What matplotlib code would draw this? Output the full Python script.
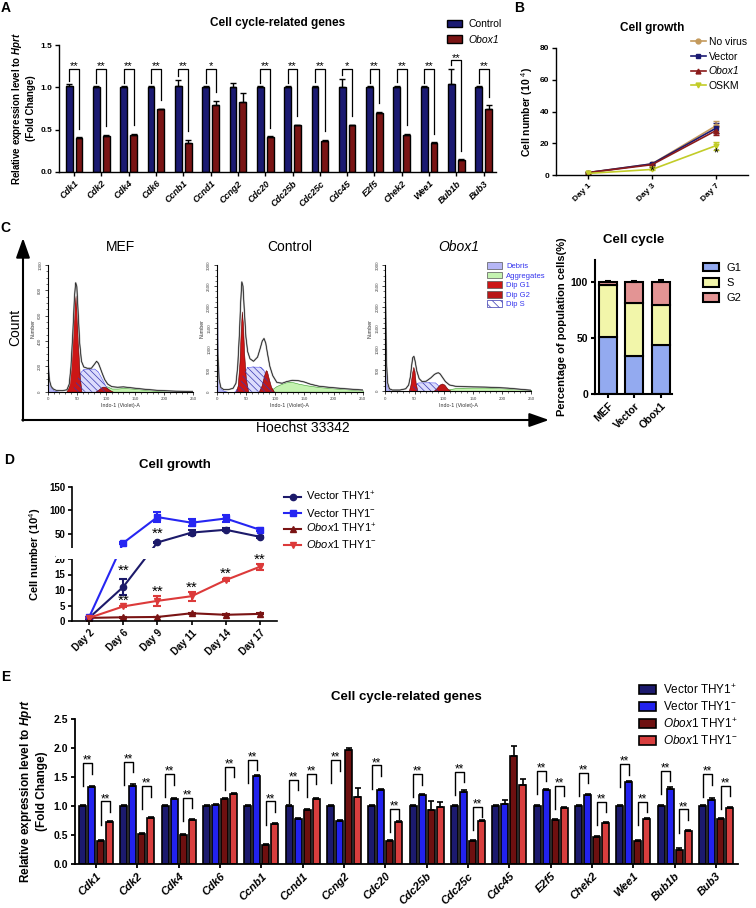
import numpy as np
import matplotlib
matplotlib.use('Agg')
import matplotlib.pyplot as plt
from matplotlib.patches import Patch, Rectangle
from matplotlib.lines import Line2D

plt.rcParams['font.family'] = ['Liberation Sans', 'DejaVu Sans']
plt.rcParams['mathtext.fontset'] = 'custom'
plt.rcParams['mathtext.rm'] = 'Liberation Sans'
plt.rcParams['mathtext.it'] = 'Liberation Sans:italic'
plt.rcParams['mathtext.bf'] = 'Liberation Sans:bold'
plt.rcParams['mathtext.bfit'] = 'Liberation Sans:italic:bold'
plt.rcParams['hatch.linewidth'] = 0.5

# ---------------- data ----------------
genes = ['Cdk1', 'Cdk2', 'Cdk4', 'Cdk6', 'Ccnb1', 'Ccnd1', 'Ccng2', 'Cdc20',
         'Cdc25b', 'Cdc25c', 'Cdc45', 'E2f5', 'Chek2', 'Wee1', 'Bub1b', 'Bub3']

# A: Control vs Obox1
a_control = [1.01, 1.0, 1.0, 1.0, 1.01, 1.0, 1.0, 1.0, 1.0, 1.0, 1.0, 1.0, 1.0, 1.0, 1.04, 1.0]
a_control_err = [0.03, 0.01, 0.01, 0.01, 0.08, 0.01, 0.05, 0.01, 0.01, 0.02, 0.10, 0.01, 0.02, 0.01, 0.18, 0.01]
a_obox1 = [0.40, 0.43, 0.44, 0.74, 0.34, 0.79, 0.83, 0.41, 0.55, 0.37, 0.55, 0.70, 0.44, 0.34, 0.14, 0.74]
a_obox1_err = [0.01, 0.01, 0.01, 0.01, 0.04, 0.05, 0.10, 0.01, 0.01, 0.01, 0.01, 0.01, 0.01, 0.01, 0.01, 0.05]
a_sig = ['**', '**', '**', '**', '**', '*', '', '**', '**', '**', '*', '**', '**', '**', '**', '**']

# B: cell growth
b_days = ['Day 1', 'Day 3', 'Day 7']
b_novirus = [1.5, 7.0, 31.0]
b_novirus_err = [0.3, 0.5, 3.0]
b_vector = [1.5, 7.0, 29.5]
b_vector_err = [0.3, 0.5, 3.0]
b_obox1 = [1.5, 6.5, 28.0]
b_obox1_err = [0.3, 0.5, 3.0]
b_oskm = [1.0, 3.5, 18.5]
b_oskm_err = [0.2, 0.5, 2.5]
b_stars = ['', '*', '*']
b_star_y = [0, 2.0, 13.5]

# C: flow histograms (channel, count)
mef_total = ([0, 1, 3, 6, 10, 15, 25, 33, 37, 40, 43, 46, 48, 50, 52, 55, 58, 62, 68, 75, 80, 84,
              87, 90, 94, 98, 103, 110, 120, 130, 145, 165, 190, 220, 250],
             [260, 200, 90, 40, 20, 10, 8, 15, 60, 200, 450, 750, 860, 830, 650, 380, 240, 195,
              185, 185, 215, 240, 225, 190, 140, 95, 60, 40, 35, 38, 30, 20, 10, 4, 2])
mef_debris = ([0, 1, 3, 6, 10, 15, 20], [230, 180, 80, 30, 12, 5, 0])
mef_aggr = ([85, 92, 98, 103, 110, 120, 132, 145, 160, 180, 200, 215],
            [0, 20, 45, 40, 25, 25, 30, 25, 18, 10, 4, 0])
mef_s = ([42, 50, 57, 62, 80, 86, 92, 100, 108], [0, 90, 160, 180, 182, 160, 110, 40, 0])
mef_g1 = ([32, 36, 40, 43, 46, 48, 50, 52, 55, 58], [0, 40, 200, 450, 700, 760, 620, 380, 120, 0])
mef_g2 = ([82, 88, 93, 96, 100, 106, 112], [0, 20, 38, 40, 35, 15, 0])

ctl_total = ([0, 1, 2, 4, 7, 12, 20, 28, 33, 36, 39, 41, 43, 45, 47, 50, 53, 57, 63, 70, 75, 78, 81,
              84, 87, 91, 96, 103, 112, 120, 130, 140, 150, 160, 175, 195, 220, 250],
             [3000, 2000, 900, 300, 100, 50, 50, 80, 200, 600, 1400, 2100, 2600, 2500, 2000, 1300,
              950, 780, 720, 820, 1050, 1200, 1260, 1150, 900, 600, 380, 220, 200, 240, 270, 260,
              230, 180, 130, 100, 70, 40])
ctl_debris = ([0, 1, 2, 4, 7, 12, 18], [2950, 1900, 800, 250, 80, 20, 0])
ctl_aggr = ([88, 95, 102, 110, 118, 125, 132, 140, 155, 175, 200, 225, 250],
            [0, 60, 130, 180, 220, 235, 220, 190, 150, 110, 80, 55, 35])
ctl_s = ([30, 38, 45, 52, 60, 75, 80, 86, 92, 98], [0, 120, 400, 580, 595, 590, 520, 300, 100, 0])
ctl_g1 = ([33, 36, 39, 41, 43, 45, 47, 50, 54], [0, 150, 700, 1400, 1900, 1600, 900, 300, 0])
ctl_g2 = ([72, 77, 81, 84, 86, 89, 93, 98], [0, 150, 380, 510, 490, 320, 120, 0])

obx_total = ([0, 1, 2, 4, 7, 12, 25, 35, 40, 43, 45, 47, 49, 51, 54, 58, 63, 70, 78, 84, 88, 91, 94,
              98, 103, 110, 120, 135, 150, 170, 190, 210, 230, 250],
             [2750, 1800, 700, 200, 60, 30, 30, 60, 150, 350, 600, 800, 830, 720, 480, 300, 230,
              240, 320, 400, 430, 440, 410, 330, 230, 150, 120, 110, 105, 100, 90, 75, 50, 25])
obx_debris = ([0, 1, 2, 4, 7, 10], [1550, 900, 350, 100, 30, 0])
obx_aggr = ([100, 110, 120, 135, 150, 170, 190, 210, 230, 250], [0, 50, 75, 85, 90, 90, 80, 65, 50, 30])
obx_s = ([42, 50, 56, 70, 85, 90, 96], [0, 150, 210, 215, 210, 150, 0])
obx_g1 = ([40, 43, 46, 48, 50, 52, 55], [0, 150, 450, 580, 480, 200, 0])
obx_g2 = ([82, 88, 93, 97, 101, 106, 113], [0, 80, 160, 185, 160, 70, 0])

# C: cell cycle distribution (%)
cc_samples = ['MEF', 'Vector', 'Obox1']
cc_g1 = [51, 34, 44]
cc_s = [46, 47, 35.5]
cc_g2 = [3, 19, 20.5]
cc_g2_err = [0.5, 0.5, 1.5]

# D: cell growth by THY1 fraction
d_days = ['Day 2', 'Day 6', 'Day 9', 'Day 11', 'Day 14', 'Day 17']
d_vec_pos = [1.0, 11.0, 32.0, 53.0, 59.0, 44.0]
d_vec_pos_err = [0.2, 2.5, 2.0, 5.0, 3.0, 2.0]
d_vec_neg = [1.2, 31.0, 86.0, 74.0, 83.0, 59.0]
d_vec_neg_err = [0.2, 2.0, 10.0, 8.0, 8.0, 3.0]
d_obox_pos = [1.0, 1.2, 1.3, 2.5, 2.0, 2.3]
d_obox_pos_err = [0.1, 0.1, 0.1, 0.2, 0.2, 0.2]
d_obox_neg = [1.0, 4.7, 6.5, 8.0, 13.2, 17.5]
d_obox_neg_err = [0.1, 0.3, 1.5, 1.5, 0.4, 1.0]
d_star_x = [1, 1, 2, 2, 3, 4, 5]
d_star_y = [16.2, 6.6, 51.0, 9.4, 10.6, 15.2, 19.6]

# E: four groups
e_vec_pos = [1.0] * 16
e_vec_pos_err = [0.02] * 16
e_vec_neg = [1.33, 1.35, 1.12, 1.02, 1.51, 0.77, 0.74, 1.27, 1.19, 1.25, 1.04, 1.27, 1.19, 1.41, 1.30, 1.11]
e_vec_neg_err = [0.02, 0.03, 0.02, 0.02, 0.02, 0.02, 0.02, 0.02, 0.02, 0.02, 0.06, 0.02, 0.02, 0.02, 0.02, 0.02]
e_obox_pos = [0.40, 0.51, 0.50, 1.12, 0.33, 0.93, 1.97, 0.40, 0.93, 0.40, 1.86, 0.76, 0.47, 0.40, 0.25, 0.77]
e_obox_pos_err = [0.02, 0.02, 0.02, 0.02, 0.02, 0.02, 0.03, 0.02, 0.15, 0.02, 0.18, 0.02, 0.02, 0.02, 0.02, 0.02]
e_obox_neg = [0.73, 0.79, 0.76, 1.21, 0.69, 1.12, 1.15, 0.72, 0.98, 0.74, 1.36, 0.96, 0.70, 0.77, 0.57, 0.96]
e_obox_neg_err = [0.02, 0.02, 0.02, 0.02, 0.02, 0.02, 0.16, 0.02, 0.09, 0.02, 0.11, 0.02, 0.02, 0.02, 0.02, 0.02]
e_sig12 = ['**', '**', '**', '', '**', '**', '**', '**', '**', '**', '', '**', '**', '**', '**', '**']
e_sig34 = ['**', '**', '**', '**', '**', '**', '', '**', '', '**', '', '**', '**', '**', '**', '**']
e_top12 = [1.74, 1.76, 1.55, 0, 1.80, 1.45, 1.79, 1.70, 1.55, 1.59, 0, 1.61, 1.57, 1.72, 1.61, 1.55]
e_top34 = [1.08, 1.34, 1.14, 1.68, 1.08, 1.56, 0, 0.95, 0, 0.99, 0, 1.35, 1.07, 1.07, 0.94, 1.35]

# ---------------- figure ----------------
W, H = 756, 908
fig = plt.figure(figsize=(W / 100, H / 100), dpi=100)


def px_axes(x0, y0, x1, y1):
    return fig.add_axes([x0 / W, 1 - y1 / H, (x1 - x0) / W, (y1 - y0) / H])


def ftext(x, y, s, **kw):
    fig.text(x / W, 1 - y / H, s, **kw)


def style(ax, lw=1.0, size=6):
    for s in ['top', 'right']:
        ax.spines[s].set_visible(False)
    for s in ['left', 'bottom']:
        ax.spines[s].set_linewidth(lw)
    ax.tick_params(direction='out', width=lw, length=3, labelsize=size, pad=2)
    for t in ax.get_yticklabels():
        t.set_fontweight('bold')


# decoration layer for the C frame arrows
deco = fig.add_axes([0, 0, 1, 1])
deco.set_xlim(0, W)
deco.set_ylim(H, 0)
deco.axis('off')
arrow = dict(arrowstyle='-|>,head_length=0.85,head_width=0.3', lw=1.5, color='black',
             mutation_scale=14, shrinkA=0, shrinkB=0)
deco.annotate('', xy=(23, 238), xytext=(23, 420.7), arrowprops=arrow)
deco.annotate('', xy=(549, 420), xytext=(22.3, 420), arrowprops=arrow)

navy = '#1b1a72'
maroon = '#7a1414'

# ---- Panel A ----
axA = px_axes(59, 45, 496, 172)
xa = np.arange(len(genes))
n = len(genes)
axA.bar(xa - 0.18, a_control, 0.25, color=navy, edgecolor='black', lw=1.0, label='Control', zorder=2)
axA.bar(xa + 0.18, a_obox1, 0.25, color=maroon, edgecolor='black', lw=1.0, label='Obox1', zorder=2)
axA.errorbar(xa - 0.18, a_control, yerr=[np.zeros(n), a_control_err], fmt='none',
             ecolor='black', elinewidth=1.0, capsize=2, capthick=1.0, zorder=3)
axA.errorbar(xa + 0.18, a_obox1, yerr=[np.zeros(n), a_obox1_err], fmt='none',
             ecolor='black', elinewidth=1.0, capsize=2, capthick=1.0, zorder=3)
for i in range(n):
    if not a_sig[i]:
        continue
    c_top = a_control[i] + a_control_err[i]
    o_top = a_obox1[i] + a_obox1_err[i]
    top = max(1.22, c_top + 0.1)
    axA.plot([i - 0.18, i - 0.18, i + 0.18, i + 0.18], [c_top + 0.04, top, top, o_top + 0.1],
             color='black', lw=0.9)
    axA.text(i, top - 0.01, a_sig[i], ha='center', va='baseline', fontsize=8)
axA.set_xlim(-0.55, 15.45)
axA.set_ylim(0, 1.5)
axA.set_yticks([0, 0.5, 1.0, 1.5])
axA.set_yticklabels(['0.0', '0.5', '1.0', '1.5'])
axA.set_xticks(xa)
axA.set_xticklabels(genes, rotation=45, ha='right', va='top', rotation_mode='anchor',
                    fontstyle='italic', fontweight='bold')
style(axA, 1.0, 6)
axA.tick_params(axis='x', labelsize=6.5)
axA.set_ylabel('Relative expression level to $\\mathbfit{Hprt}$\n(Fold Change)',
               fontsize=7, fontweight='bold', labelpad=3, linespacing=1.3)
axA.set_title('Cell cycle-related genes', fontsize=8.5, fontweight='bold', pad=14)
legA = axA.legend(loc='upper left', bbox_to_anchor=(447 / W, 1 - 19 / H),
                  bbox_transform=fig.transFigure, frameon=False, fontsize=7.5,
                  handlelength=1.45, handleheight=0.75, handletextpad=0.65,
                  labelspacing=0.55, borderpad=0, borderaxespad=0)
legA.get_texts()[1].set_fontstyle('italic')

# ---- Panel B ----
axB = px_axes(556, 48, 748, 175)
xb = np.arange(3)
b_series = [(b_novirus, b_novirus_err, '#c49a5c', 'o', 'No virus'),
            (b_vector, b_vector_err, navy, 's', 'Vector'),
            (b_obox1, b_obox1_err, '#8a1a1a', '^', 'Obox1'),
            (b_oskm, b_oskm_err, '#c2cc28', 'v', 'OSKM')]
b_handles = []
for vals, errs, col, mk, lab in b_series:
    axB.errorbar(xb, vals, yerr=errs, color=col, marker=mk, ms=3.5, lw=1.2,
                 capsize=2.5, elinewidth=1.2)
    b_handles.append(Line2D([], [], color=col, marker=mk, ms=3.5, lw=1.2))
for i in range(3):
    if b_stars[i]:
        axB.text(i, b_star_y[i], b_stars[i], ha='center', va='center', fontsize=9)
axB.set_xlim(-0.5, 2.5)
axB.set_ylim(0, 80)
axB.set_yticks([0, 20, 40, 60, 80])
axB.set_xticks(xb)
axB.set_xticklabels(b_days, rotation=45, ha='right', va='top', rotation_mode='anchor',
                    fontweight='bold')
style(axB, 1.0, 6)
axB.set_ylabel('Cell number (10 $^{4}$)', fontsize=7.5, fontweight='bold', labelpad=3)
axB.set_title('Cell growth', fontsize=8.5, fontweight='bold', pad=12)
legB = axB.legend(b_handles, [s[4] for s in b_series], loc='upper left',
                  bbox_to_anchor=(691 / W, 1 - 37 / H),
                  bbox_transform=fig.transFigure, frameon=False, fontsize=7.5,
                  handlelength=1.4, handletextpad=0.3, labelspacing=0.45,
                  borderpad=0, borderaxespad=0)
legB.get_texts()[2].set_fontstyle('italic')

# ---- Panel C histograms ----


def hist_panel(rect, total, debris, aggr, s_ph, g1, g2, ymax, ystep, title, italic=False):
    ax = px_axes(*rect)
    ax.fill_between(debris[0], debris[1], color='#b6b6f6', edgecolor='#4a4ad8', lw=0.4)
    ax.fill_between(aggr[0], aggr[1], color='#c4f2b0', edgecolor='#3a9a2a', lw=0.4)
    ax.fill_between(s_ph[0], s_ph[1], facecolor='#dcdcfc', edgecolor='#5858f0', lw=0.4)
    ax.fill_between(g1[0], g1[1], color='#cc1616', edgecolor='#600000', lw=0.4)
    ax.fill_between(g2[0], g2[1], color='#c01818', edgecolor='#600000', lw=0.4)
    ax.fill_between(s_ph[0], s_ph[1], facecolor='none', edgecolor='#3838b0', hatch='\\\\\\\\\\',
                    lw=0)
    ax.plot(total[0], total[1], color='#b4b4b4', lw=1.3, solid_joinstyle='round')
    ax.plot(total[0], total[1], color='black', lw=0.45)
    ax.set_xlim(0, 250)
    ax.set_ylim(0, ymax)
    for s in ['top', 'right']:
        ax.spines[s].set_visible(False)
    for s in ['left', 'bottom']:
        ax.spines[s].set_linewidth(0.8)
    ax.set_xticks(np.arange(0, 251, 50))
    ax.set_xticks(np.arange(0, 251, 10), minor=True)
    ax.set_yticks(np.arange(0, ymax + 1, ystep))
    ax.set_yticks(np.arange(0, ymax + 1, ystep / 4), minor=True)
    ax.tick_params(which='major', length=2.5, width=0.5, labelsize=3.2, pad=1.5,
                   labelcolor='#444444')
    ax.tick_params(which='minor', length=1.5, width=0.4)
    ax.tick_params(axis='y', labelrotation=90)
    for t in ax.get_yticklabels():
        t.set_va('center')
    ax.set_xlabel('Indo-1 (Violet)-A', fontsize=3.8, labelpad=1.5, color='#333333')
    ax.set_ylabel('Number', fontsize=3.8, labelpad=2, color='#333333')
    ax.set_title(title, fontsize=10, pad=10, fontstyle='italic' if italic else 'normal')
    return ax


hist_panel((47.7, 265, 193.3, 391.7), mef_total, mef_debris, mef_aggr, mef_s, mef_g1, mef_g2,
           1000, 200, 'MEF')
hist_panel((216.7, 265, 362.7, 391.7), ctl_total, ctl_debris, ctl_aggr, ctl_s, ctl_g1, ctl_g2,
           3000, 500, 'Control')
axO = hist_panel((385.3, 265, 531.3, 391.3), obx_total, obx_debris, obx_aggr, obx_s, obx_g1,
                 obx_g2, 3000, 500, 'Obox1', italic=True)
hist_handles = [Patch(facecolor='#b6b6f6', edgecolor='#555555', lw=0.5),
                Patch(facecolor='#c4f2b0', edgecolor='#555555', lw=0.5),
                Patch(facecolor='#cc1616', edgecolor='#555555', lw=0.5),
                Patch(facecolor='#b81818', edgecolor='#555555', lw=0.5),
                Patch(facecolor='white', edgecolor='#3838b0', hatch='\\\\\\\\', lw=0.5)]
legH = axO.legend(hist_handles, ['Debris', 'Aggregates', 'Dip G1', 'Dip G2', 'Dip S'],
                  loc='upper left', bbox_to_anchor=(487 / W, 1 - 262 / H),
                  bbox_transform=fig.transFigure, frameon=False, fontsize=5.5,
                  handlelength=2.0, handleheight=1.0, handletextpad=0.5, labelspacing=0.2,
                  borderpad=0, borderaxespad=0)
for t in legH.get_texts():
    t.set_color('#3434ee')

ftext(15.5, 327, 'Count', rotation=90, fontsize=10, ha='center', va='center')
ftext(303, 428, 'Hoechst 33342', fontsize=10, ha='center', va='center')

# ---- Panel C stacked bars ----
axS = px_axes(595, 259.6, 672, 394)
xs = np.arange(3)
g1s = np.array(cc_g1)
ss = np.array(cc_s)
axS.bar(xs, cc_g1, 0.68, color='#93aaf0', edgecolor='black', lw=1.5, label='G1')
axS.bar(xs, cc_s, 0.68, bottom=g1s, color='#f2f6aa', edgecolor='black', lw=1.5, label='S')
axS.bar(xs, cc_g2, 0.68, bottom=g1s + ss, color='#e39494', edgecolor='black', lw=1.5, label='G2')
axS.errorbar(xs, g1s + ss + np.array(cc_g2), yerr=[np.zeros(3), cc_g2_err], fmt='none',
             ecolor='black', elinewidth=1.5, capsize=2.5, capthick=1.5)
axS.set_xlim(-0.49, 2.42)
axS.set_ylim(0, 120)
axS.set_yticks([0, 50, 100])
axS.set_xticks(xs)
axS.set_xticklabels(cc_samples, rotation=45, ha='right', va='top', rotation_mode='anchor',
                    fontweight='bold')
style(axS, 1.5, 7.5)
axS.set_ylabel('Percentage of population cells(%)', fontsize=8, fontweight='bold', labelpad=3)
axS.set_title('Cell cycle', fontsize=9.5, fontweight='bold', pad=12)
axS.legend(loc='upper left', bbox_to_anchor=(703 / W, 1 - 262.5 / H),
           bbox_transform=fig.transFigure, frameon=False, fontsize=8,
           handlelength=1.45, handleheight=0.85, handletextpad=0.7, labelspacing=0.45,
           borderpad=0, borderaxespad=0)

# ---- Panel D ----
_dv = np.array([0.0, 20.0, 20.2, 150.0])
_dp = np.array([0.0, 62.0, 73.0, 134.0])


def d_fwd(v):
    v = np.asarray(v, dtype=float)
    out = np.interp(v, _dv, _dp)
    out = np.where(v < 0, v * 3.1, out)
    return np.where(v > 150, 134 + (v - 150) * 0.47, out)


def d_inv(p):
    p = np.asarray(p, dtype=float)
    out = np.interp(p, _dp, _dv)
    out = np.where(p < 0, p / 3.1, out)
    return np.where(p > 134, 150 + (p - 134) / 0.47, out)


axD = px_axes(72, 487, 277, 621)
axD.set_yscale('function', functions=(d_fwd, d_inv))
xd = np.arange(len(d_days))
d_series = [(d_vec_pos, d_vec_pos_err, '#1c1a6a', 'o', 'Vector THY1$^{+}$'),
            (d_vec_neg, d_vec_neg_err, '#2626f2', 's', 'Vector THY1$^{-}$'),
            (d_obox_pos, d_obox_pos_err, '#7a1414', '^', '$\\it{Obox1}$ THY1$^{+}$'),
            (d_obox_neg, d_obox_neg_err, '#dc3a3a', 'v', '$\\it{Obox1}$ THY1$^{-}$')]
d_handles = []
for vals, errs, col, mk, lab in d_series:
    axD.errorbar(xd, vals, yerr=errs, color=col, marker=mk, ms=4.5, lw=1.5,
                 capsize=3, elinewidth=1.5, capthick=1.5)
    d_handles.append(Line2D([], [], color=col, marker=mk, ms=4.5, lw=1.5))
axD.add_patch(Rectangle((-0.08, 20.004), 1.1, 0.192, transform=axD.get_yaxis_transform(),
                        facecolor='white', edgecolor='none', clip_on=False, zorder=4))
for sx, sy in zip(d_star_x, d_star_y):
    axD.text(sx, sy, '**', ha='center', va='center', fontsize=11, zorder=5)
axD.set_xlim(-0.5, 5.5)
axD.set_ylim(0, 150)
axD.set_yticks([0, 5, 10, 15, 20, 50, 100, 150])
axD.set_xticks(xd)
axD.set_xticklabels(d_days, rotation=45, ha='right', va='top', rotation_mode='anchor',
                    fontweight='bold')
axD.minorticks_off()
style(axD, 1.2, 7)
axD.set_ylabel('Cell number (10$^{4}$)', fontsize=8, fontweight='bold', labelpad=4)
axD.set_title('Cell growth', fontsize=9.5, fontweight='bold', pad=14)
axD.legend(d_handles, [s[4] for s in d_series], loc='upper left',
           bbox_to_anchor=(284 / W, 1 - 490 / H),
           bbox_transform=fig.transFigure, frameon=False, fontsize=8,
           handlelength=1.55, handletextpad=0.45, labelspacing=0.3,
           borderpad=0, borderaxespad=0)

# ---- Panel E ----
axE = px_axes(75, 719, 738, 864)
xe = np.arange(len(genes))
e_off = [-0.327, -0.109, 0.109, 0.327]
e_series = [(e_vec_pos, e_vec_pos_err, '#1c1a6e', 'Vector THY1$^{+}$'),
            (e_vec_neg, e_vec_neg_err, '#2222ee', 'Vector THY1$^{-}$'),
            (e_obox_pos, e_obox_pos_err, '#6e1010', '$\\it{Obox1}$ THY1$^{+}$'),
            (e_obox_neg, e_obox_neg_err, '#d83e3e', '$\\it{Obox1}$ THY1$^{-}$')]
for k, (vals, errs, col, lab) in enumerate(e_series):
    axE.bar(xe + e_off[k], vals, 0.17, color=col, edgecolor='black', lw=1.2, label=lab, zorder=2)
    axE.errorbar(xe + e_off[k], vals, yerr=[np.zeros(n), errs], fmt='none', ecolor='black',
                 elinewidth=1.2, capsize=2, capthick=1.2, zorder=3)
for i in range(n):
    for j1, j2, sig, tops in [(0, 1, e_sig12, e_top12), (2, 3, e_sig34, e_top34)]:
        if not sig[i]:
            continue
        t = tops[i]
        xl, xr = i + e_off[j1], i + e_off[j2]
        axE.plot([xl, xl, xr, xr], [t - 0.4, t, t, t - 0.18], color='black', lw=1.0)
        axE.text((xl + xr) / 2, t - 0.01, sig[i], ha='center', va='baseline', fontsize=8.5)
axE.set_xlim(-0.51, 15.53)
axE.set_ylim(0, 2.5)
axE.set_yticks([0, 0.5, 1.0, 1.5, 2.0, 2.5])
axE.set_yticklabels(['0.0', '0.5', '1.0', '1.5', '2.0', '2.5'])
axE.set_xticks(xe)
axE.set_xticklabels(genes, rotation=45, ha='right', va='top', rotation_mode='anchor',
                    fontstyle='italic', fontweight='bold')
style(axE, 1.3, 7.5)
axE.tick_params(axis='x', labelsize=8)
axE.set_ylabel('Relative expression level to $\\mathbfit{Hprt}$\n(Fold Change)',
               fontsize=8.5, fontweight='bold', labelpad=4, linespacing=1.2)
axE.set_title('Cell cycle-related genes', fontsize=9.5, fontweight='bold', pad=14)
axE.legend(loc='upper left', bbox_to_anchor=(639 / W, 1 - 683 / H),
           bbox_transform=fig.transFigure, frameon=False, fontsize=8.5,
           handlelength=1.45, handleheight=0.8, handletextpad=0.55, labelspacing=0.3,
           borderpad=0, borderaxespad=0)

# panel letters
for lab, x, y in [('A', 6, 8), ('B', 519, 8), ('C', 5, 228), ('D', 9, 460), ('E', 6, 677)]:
    ftext(x, y, lab, fontsize=10, fontweight='bold', ha='center', va='center')

fig.savefig('out.png', dpi=100)
